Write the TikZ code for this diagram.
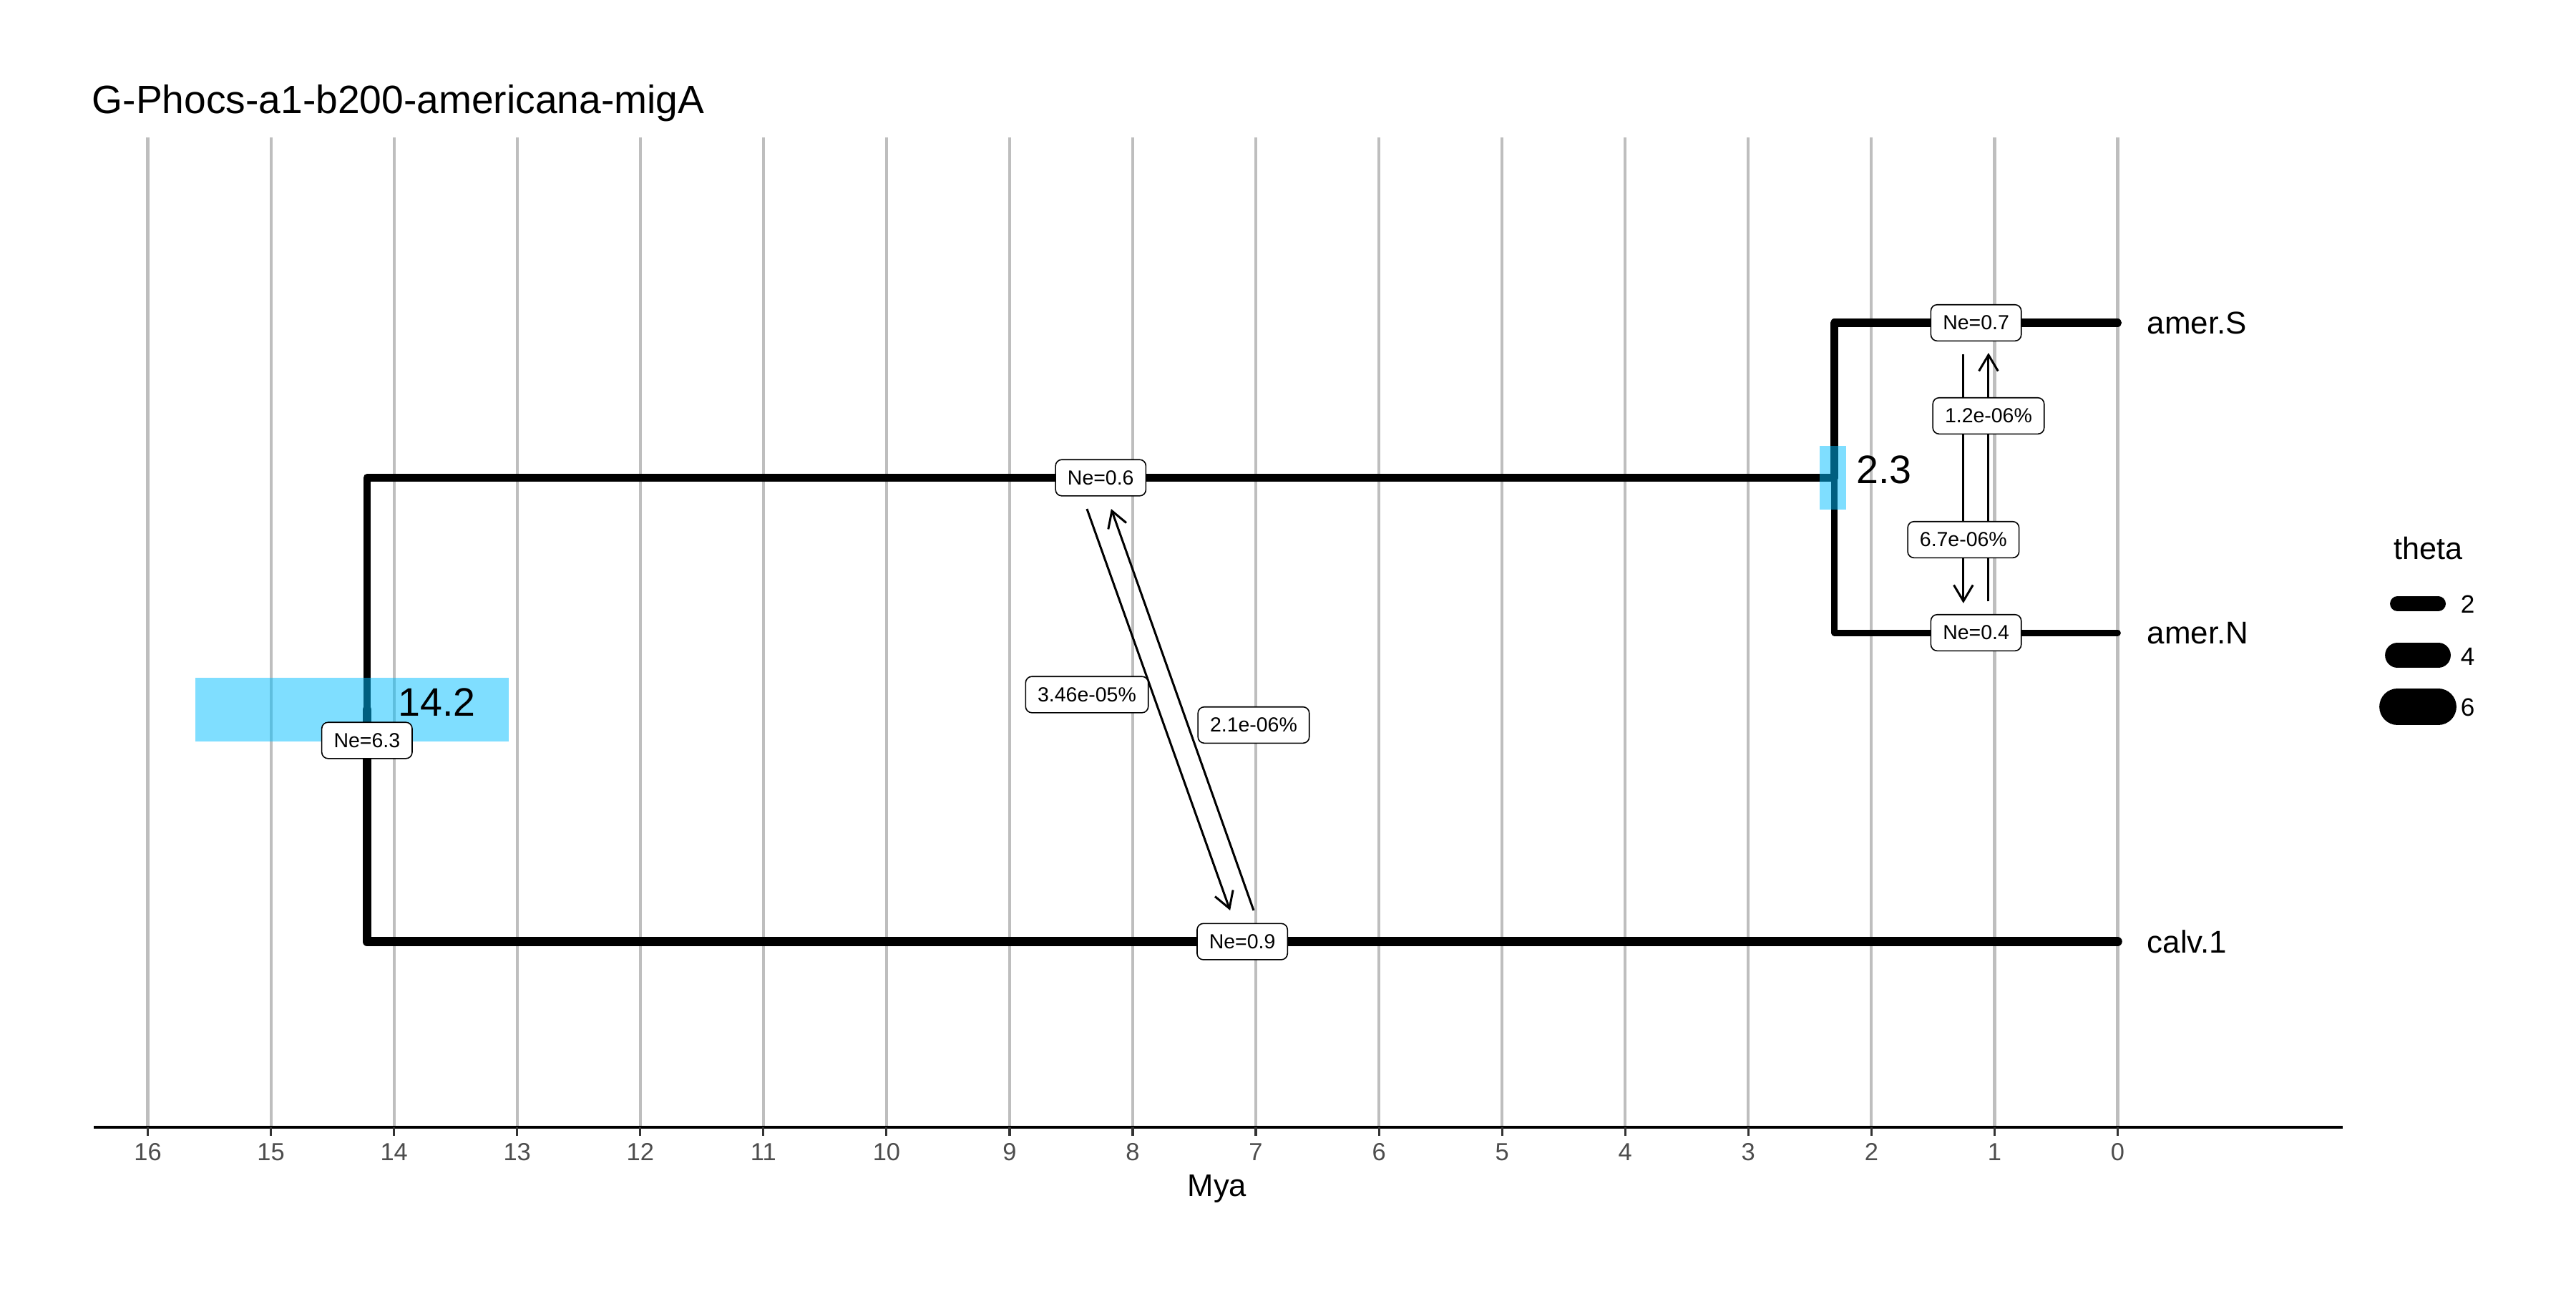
\documentclass[tikz,border=0pt]{standalone}
\usepackage{fontspec}
\setmainfont{Liberation Sans}
\usetikzlibrary{arrows.meta}
\definecolor{gridgray}{RGB}{190,190,190}
\definecolor{tickgray}{RGB}{51,51,51}
\definecolor{labgray}{RGB}{77,77,77}
\definecolor{hpdblue}{RGB}{0,191,255}

\begin{document}
\begin{tikzpicture}[
    gridline/.style={draw=gridgray, line width=1.2pt},
    axisline/.style={draw=black, line width=1.1pt},
    axistick/.style={draw=tickgray, line width=0.9pt},
    ticklab/.style={font=\fontsize{9.8}{11}\selectfont, text=labgray, anchor=base, inner sep=0pt},
    branch/.style={draw=black, line cap=round, line join=round},
    hpd/.style={fill=hpdblue, fill opacity=0.5},
    nebox/.style={
        rectangle, rounded corners=2.5pt, draw=black, line width=0.45pt,
        fill=white, inner xsep=4.8pt, inner ysep=0pt, minimum height=14.4pt,
        font=\fontsize{8.1}{9}\selectfont
    },
    mig/.style={-{Straight Barb[length=6.4pt, width=7.6pt]}, line width=0.85pt, draw=black},
    agelab/.style={font=\fontsize{15.8}{18}\selectfont, anchor=base west, inner sep=0pt},
    tiplab/.style={font=\fontsize{12.5}{15}\selectfont, anchor=base west, inner sep=0pt},
    legkey/.style={draw=black, line cap=round},
    leglab/.style={font=\fontsize{10}{12}\selectfont, anchor=base west, inner sep=0pt}
]

% Canvas
\fill[white] (0,0) rectangle (36,-18);
\useasboundingbox (0,0) rectangle (36,-18);

% Title
\node[anchor=base west, inner sep=0pt, font=\fontsize{15.7}{18}\selectfont] (title) at (1.28,-1.583) {G-Phocs-a1-b200-americana-migA};

\begin{scope}[xshift=29.594cm, x={(-1.7205cm,0cm)}]

% Grid
\foreach \t in {0,...,16} {
    \draw[gridline] (\t,-1.92) -- (\t,-15.75);
}

% Time axis
\coordinate (axisL) at (16.439,-15.75);
\coordinate (axisR) at (-1.8285,-15.75);
\draw[axisline] (axisL) -- (axisR);
\foreach \t in {0,...,16} {
    \draw[axistick] (\t,-15.75) -- (\t,-15.87);
    \node[ticklab] (tick\t) at (\t,-16.217) {\t};
}

% Tree nodes
\coordinate (root) at (14.22,-9.915);
\coordinate (amer) at (2.30,-6.675);
\coordinate (amerS) at (0,-4.51);
\coordinate (amerN) at (0,-8.84);
\coordinate (calv) at (0,-13.156);

% Branches (width follows theta)
\draw[branch, line width=2.97pt] (root) |- (amer);
\draw[branch, line width=3.61pt] (root) |- (calv);
\draw[branch, line width=3.19pt] (amer) |- (amerS);
\draw[branch, line width=2.55pt] (amer) |- (amerN);

% HPD intervals of the split times
\fill[hpd] (15.614,-9.47) rectangle (13.068,-10.36);
\fill[hpd] (2.420,-6.23) rectangle (2.205,-7.12);

% Migration bands
\coordinate (m1a) at (8.372,-7.11);
\coordinate (m1b) at (7.209,-12.72);
\coordinate (m2a) at (7.018,-12.72);
\coordinate (m2b) at (8.175,-7.11);
\draw[mig] (m1a) -- (m1b);
\draw[mig] (m2a) -- (m2b);

\coordinate (m3a) at (1.253,-4.947);
\coordinate (m3b) at (1.253,-8.428);
\coordinate (m4a) at (1.049,-8.404);
\coordinate (m4b) at (1.049,-4.93);
\draw[mig] (m3a) -- (m3b);
\draw[mig] (m4a) -- (m4b);

% Population sizes
\node[nebox] (neS) at (1.15,-4.51) {Ne=0.7};
\node[nebox] (neN) at (1.15,-8.84) {Ne=0.4};
\node[nebox] (neA) at (8.26,-6.675) {Ne=0.6};
\node[nebox] (neC) at (7.11,-13.156) {Ne=0.9};
\node[nebox] (neR) at (14.22,-10.345) {Ne=6.3};

% Migration rates
\node[nebox] (rate1) at (8.372,-9.705) {3.46e-05\%};
\node[nebox] (rate2) at (7.018,-10.13) {2.1e-06\%};
\node[nebox] (rate3) at (1.253,-7.54) {6.7e-06\%};
\node[nebox] (rate4) at (1.049,-5.81) {1.2e-06\%};

\end{scope}

% Split ages
\node[agelab] (age1) at (5.56,-10.0) {14.2};
\node[agelab] (age2) at (25.936,-6.754) {2.3};

% Tip labels
\node[tiplab] (labS) at (30.0,-4.66) {amer.S};
\node[tiplab] (labN) at (30.0,-8.99) {amer.N};
\node[tiplab] (labC) at (30.0,-13.31) {calv.1};

% Axis title
\node[anchor=base, inner sep=0pt, font=\fontsize{12.4}{15}\selectfont] (xlab) at (17.01,-16.717) {Mya};

% Legend
\node[anchor=base west, inner sep=0pt, font=\fontsize{12.3}{15}\selectfont] (legtitle) at (33.45,-7.817) {theta};
\draw[legkey, line width=5.95pt] (33.505,-8.435) -- (34.075,-8.435);
\draw[legkey, line width=9.9pt] (33.505,-9.155) -- (34.075,-9.155);
\draw[legkey, line width=14.45pt] (33.505,-9.875) -- (34.075,-9.875);
\node[leglab] (leg2) at (34.38,-8.567) {2};
\node[leglab] (leg4) at (34.38,-9.29) {4};
\node[leglab] (leg6) at (34.38,-10.007) {6};

\end{tikzpicture}
\end{document}
